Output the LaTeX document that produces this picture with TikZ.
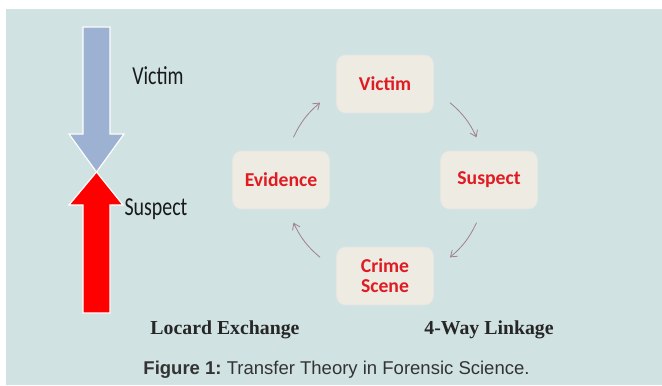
\documentclass[tikz,border=0pt]{standalone}
\usepackage{fontspec}
\setmainfont{Liberation Serif}
\newfontfamily\calibri{Carlito}
\newfontfamily\arialfont{Liberation Sans}
\usetikzlibrary{arrows.meta,calc}

\definecolor{panelbg}{HTML}{D0E2E2}
\definecolor{victimblue}{HTML}{9DB1D2}
\definecolor{cardfill}{HTML}{EDEBE2}
\definecolor{cardred}{HTML}{E01B22}
\definecolor{linkgray}{HTML}{A08290}

\begin{document}
\frenchspacing
\begin{tikzpicture}[
        x=0.03cm, y=0.03cm,
        card/.style={rectangle, draw=white!80!gray, line width=0.6pt, rounded corners=0.27cm, fill=cardfill, align=center, minimum width=2.91cm, minimum height=1.74cm, text=cardred, font=\calibri\bfseries\fontsize{16.8}{17}\selectfont},
        link/.style={draw=linkgray, line width=0.7pt, -{Straight Barb[length=5pt,width=7pt]}},
        side label/.style={text=black!90, font=\calibri\fontsize{17}{20}\selectfont},
        heading/.style={text=black!85, font=\bfseries\fontsize{16.9}{20}\selectfont},
        caption/.style={text=black!80, font=\arialfont\fontsize{15.8}{18}\selectfont}
    ]
    \useasboundingbox (0,0) rectangle (662,385);
    \fill[panelbg] (6,0) rectangle (662,376);

    % Locard exchange: two arrows meeting tip to tip
    \filldraw[fill=victimblue, draw=white, line width=1pt]
        (83,358) -- (110,358) -- (110,251) -- (124,251) -- (96.5,213) -- (69,251) -- (83,251) -- cycle;
    \filldraw[fill=red, draw=white, line width=1pt]
        (83,72) -- (110,72) -- (110,180) -- (123,180) -- (96.5,213) -- (69,180) -- (83,180) -- cycle;
    \node[side label] (victimlabel) at (158,309) {\scalebox{1}[1.3]{Victim}};
    \node[side label] (suspectlabel) at (156,176) {\scalebox{1}[1.3]{Suspect}};

    % 4-way linkage cycle
    \node[card] (victim) at (385,301) {Victim};
    \node[card] (suspect) at (489,205) {Suspect};
    \node[card] (crime) at (385,109) {Crime\\Scene};
    \node[card] (evidence) at (281,205) {Evidence};

    \coordinate (hub) at (385,205);
    \foreach \name/\a in {vs/50, sv/25, sc/-25, cs/-50, ce/-130, ec/-155, ev/155, ve/130}
        \coordinate (\name) at ($(hub)+(\a:101)$);
    \draw[link] (vs) to[bend left=12] (sv);
    \draw[link] (sc) to[bend left=12] (cs);
    \draw[link] (ce) to[bend left=12] (ec);
    \draw[link] (ev) to[bend left=12] (ve);

    \node[heading] (locard) at (225,55) {Locard Exchange};
    \node[heading] (linkage) at (489,55) {4-Way Linkage};
    \node[caption] (figcaption) at (336.5,15) {\textbf{Figure 1:} Transfer Theory in Forensic Science.};
\end{tikzpicture}
\end{document}
